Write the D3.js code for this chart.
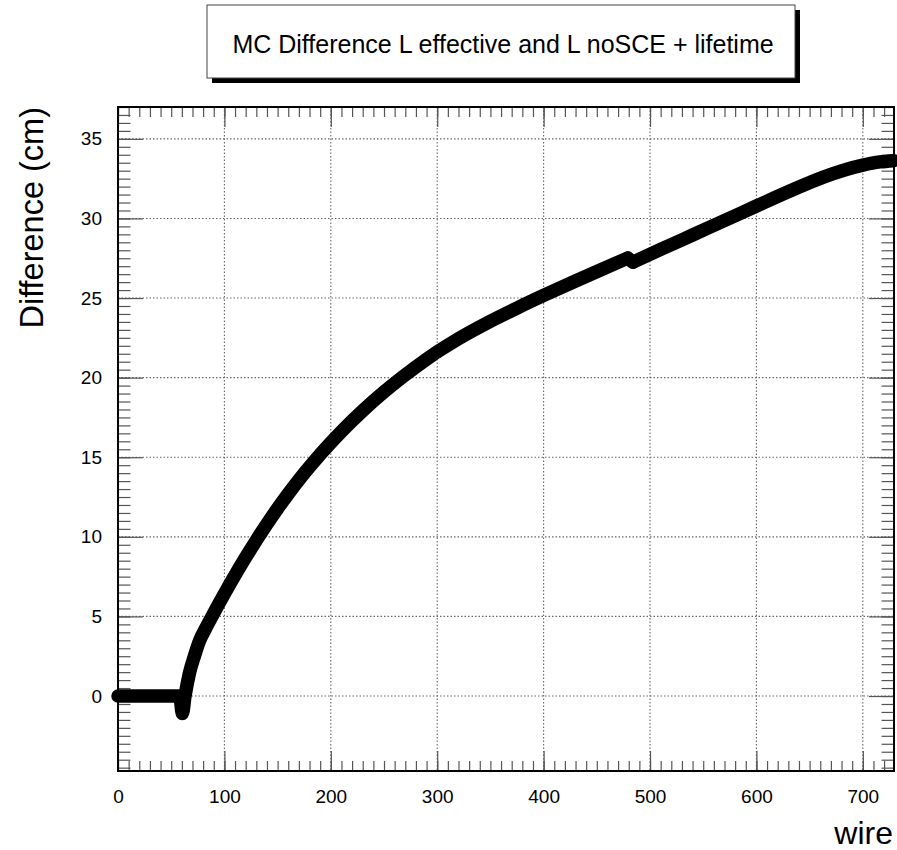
<!DOCTYPE html>
<html>
<head>
<meta charset="utf-8">
<title>MC Difference L effective and L noSCE + lifetime</title>
<script src="https://d3js.org/d3.v7.min.js"></script>
<style>
  body { margin: 0; background: #fff; }
  svg { display: block; }
  text { font-family: "Liberation Sans", Arial, Helvetica, sans-serif; fill: #000; }
  .tick line { stroke: #555; stroke-width: 1.2px; }
  .tick text { font-size: 19px; }
</style>
</head>
<body>
<svg width="897" height="850"></svg>
<script>
// values: wire number -> difference (cm)
// there is a small step down between wire 479 and 484
var wires = [0, 58, 60.5, 63, 67, 72, 76.5, 82, 89, 100, 110, 120, 131, 140, 150, 160, 175, 191, 210, 230, 250,
             268, 290, 300, 310, 330, 350, 375, 400, 430, 455, 479,
             484, 510, 540, 575, 600, 632, 663, 700, 716, 729];
var diffs = [0, 0, -1.1, 0, 1.4, 2.55, 3.45, 4.2, 5.08, 6.42, 7.59, 8.71, 9.89, 10.81, 11.78, 12.7, 13.99, 15.25, 16.62, 17.92, 19.1,
             20.07, 21.16, 21.62, 22.04, 22.82, 23.54, 24.37, 25.16, 26.07, 26.81, 27.51,
             27.25, 28.05, 28.96, 30.02, 30.78, 31.74, 32.6, 33.35, 33.55, 33.63];
var kinkAt = 32; // first point after the step

var xTicks = [0, 100, 200, 300, 400, 500, 600, 700];
var yTicks = [0, 5, 10, 15, 20, 25, 30, 35];

var titleText = "MC Difference L effective and L noSCE + lifetime";
var xTitle = "wire";
var yTitle = "Difference (cm)";

var svg = d3.select("svg");
var frame = { left: 118, right: 894, top: 107, bottom: 771 };

var x = d3.scaleLinear().domain([0, 729.3]).range([frame.left, frame.right]);
var y = d3.scaleLinear().domain([-4.71, 37.0]).range([frame.bottom, frame.top]);

var xMinor = d3.range(0, 730, 10);
var yMinor = d3.range(-4.5, 37.01, 0.5);

// grid
var grid = svg.append("g").attr("stroke", "#666").attr("stroke-width", 1.1).attr("stroke-dasharray", "1.5,2");
grid.selectAll(".gx").data(xTicks).enter().append("line")
  .attr("x1", function (d) { return x(d); }).attr("x2", function (d) { return x(d); })
  .attr("y1", frame.top).attr("y2", frame.bottom);
grid.selectAll(".gy").data(yTicks).enter().append("line")
  .attr("x1", frame.left).attr("x2", frame.right)
  .attr("y1", function (d) { return y(d); }).attr("y2", function (d) { return y(d); });

// axes, ticks pointing inward
function addAxis(axis, tx, ty) {
  var g = svg.append("g").attr("transform", "translate(" + tx + "," + ty + ")").call(axis);
  g.select(".domain").remove();
  return g;
}
addAxis(d3.axisBottom(x).tickValues(xMinor).tickSize(-10).tickFormat(""), 0, frame.bottom);
addAxis(d3.axisTop(x).tickValues(xMinor).tickSize(-10).tickFormat(""), 0, frame.top);
addAxis(d3.axisLeft(y).tickValues(yMinor).tickSize(-12.5).tickFormat(""), frame.left, 0);
addAxis(d3.axisRight(y).tickValues(yMinor).tickSize(-12.5).tickFormat(""), frame.right, 0);

addAxis(d3.axisBottom(x).tickValues(xTicks).tickSize(-20).tickPadding(18.5), 0, frame.bottom);
addAxis(d3.axisTop(x).tickValues(xTicks).tickSize(-20).tickFormat(""), 0, frame.top);
addAxis(d3.axisLeft(y).tickValues(yTicks).tickSize(-25).tickPadding(16), frame.left, 0);
addAxis(d3.axisRight(y).tickValues(yTicks).tickSize(-25).tickFormat(""), frame.right, 0);

// the curve: smooth pieces on each side of the step, joined straight across it
var pts = wires.map(function (w, i) { return [w, diffs[i]]; });
var smooth = d3.line()
  .x(function (d) { return x(d[0]); })
  .y(function (d) { return y(d[1]); })
  .curve(d3.curveMonotoneX);
var straight = d3.line()
  .x(function (d) { return x(d[0]); })
  .y(function (d) { return y(d[1]); });

var pieces = [pts.slice(0, kinkAt), pts.slice(kinkAt - 1, kinkAt + 1), pts.slice(kinkAt)];
svg.selectAll(".curve").data(pieces).enter().append("path")
  .attr("class", "curve")
  .attr("d", function (d, i) { return i === 1 ? straight(d) : smooth(d); })
  .attr("fill", "none")
  .attr("stroke", "#000")
  .attr("stroke-width", 13.5)
  .attr("stroke-linecap", "round")
  .attr("stroke-linejoin", "round");

// frame
svg.append("rect")
  .attr("x", frame.left).attr("y", frame.top)
  .attr("width", frame.right - frame.left).attr("height", frame.bottom - frame.top)
  .attr("fill", "none").attr("stroke", "#000").attr("stroke-width", 2);

// axis titles
svg.append("text")
  .attr("x", frame.right - 1).attr("y", 844)
  .attr("text-anchor", "end")
  .style("font-size", "32px")
  .text(xTitle);

svg.append("text")
  .attr("transform", "translate(43," + frame.top + ") rotate(-90)")
  .attr("text-anchor", "end")
  .style("font-size", "32.5px")
  .text(yTitle);

// title box with shadow
svg.append("rect").attr("x", 212).attr("y", 10).attr("width", 588).attr("height", 73).attr("fill", "#000");
svg.append("rect").attr("x", 207).attr("y", 5).attr("width", 588).attr("height", 73)
  .attr("fill", "#fff").attr("stroke", "#444").attr("stroke-width", 1);
svg.append("text")
  .attr("x", 503).attr("y", 53)
  .attr("text-anchor", "middle")
  .style("font-size", "25px")
  .text(titleText);
</script>
</body>
</html>
